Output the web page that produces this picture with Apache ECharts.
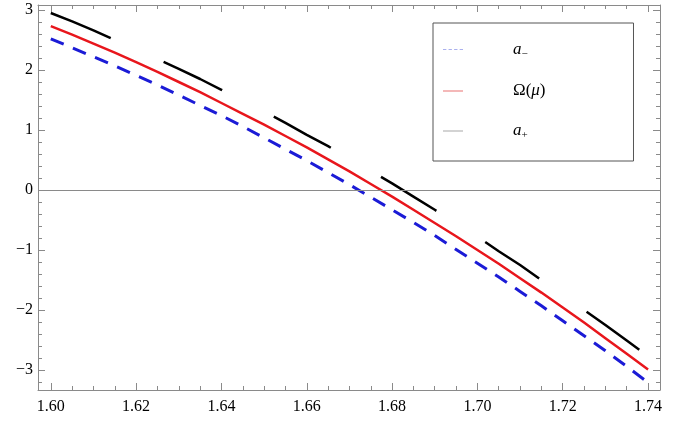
<!DOCTYPE html>
<html><head><meta charset="utf-8">
<script src="https://cdn.jsdelivr.net/npm/echarts@6/dist/echarts.min.js"></script>
<style>html,body{margin:0;padding:0;background:#fff}#c{width:685px;height:428px}</style>
</head><body><div id="c"></div>
<script>
// Data
const xs = [1.600,1.605,1.610,1.615,1.620,1.625,1.630,1.635,1.640,1.645,1.650,1.655,1.660,1.665,1.670,1.675,1.680,1.685,1.690,1.695,1.700,1.705,1.710,1.715,1.720,1.725,1.730,1.735,1.740];
const omega = [2.73,2.59,2.44,2.29,2.13,1.97,1.80,1.63,1.45,1.27,1.09,0.90,0.71,0.51,0.31,0.10,-0.11,-0.33,-0.55,-0.77,-1.00,-1.23,-1.47,-1.71,-1.96,-2.21,-2.47,-2.73,-2.99];
const aMinus = [2.52,2.37,2.22,2.07,1.91,1.75,1.58,1.41,1.24,1.06,0.87,0.68,0.49,0.29,0.09,-0.12,-0.33,-0.54,-0.76,-0.99,-1.22,-1.45,-1.69,-1.93,-2.18,-2.43,-2.68,-2.94,-3.21];
const aPlus = [2.95,2.81,2.66,2.50,2.35,2.18,2.02,1.85,1.67,1.49,1.31,1.12,0.92,0.73,0.52,0.32,0.11,-0.11,-0.33,-0.55,-0.78,-1.02,-1.25,-1.50,-1.74,-2.00,-2.25,-2.51,-2.77];
const xMajor = [1.60,1.62,1.64,1.66,1.68,1.70,1.72,1.74];
const xMinor = [1.600,1.605,1.610,1.615,1.620,1.625,1.630,1.635,1.640,1.645,1.650,1.655,1.660,1.665,1.670,1.675,1.680,1.685,1.690,1.695,1.700,1.705,1.710,1.715,1.720,1.725,1.730,1.735,1.740];
const yMajor = [-3,-2,-1,0,1,2,3];
const yMinor = [-3.2,-3.0,-2.8,-2.6,-2.4,-2.2,-2.0,-1.8,-1.6,-1.4,-1.2,-1.0,-0.8,-0.6,-0.4,-0.2,0,0.2,0.4,0.6,0.8,1.0,1.2,1.4,1.6,1.8,2.0,2.2,2.4,2.6,2.8,3.0];
const names = ['a₋','Ω(μ)','a₊'];

const X_MIN = 1.597, X_MAX = 1.7428, Y_MIN = -3.3333, Y_MAX = 3.0833;
const frame = '#8a8a8a';
const serif = 'Liberation Serif';

function xAx(pos, vals, len, labels, line) {
  return {
    type: 'value', position: pos, min: X_MIN, max: X_MAX, gridIndex: 0,
    axisLine: {show: line, onZero: false, lineStyle: {color: frame, width: 1}},
    axisTick: {show: true, inside: true, length: len, customValues: vals, lineStyle: {color: frame, width: 1}},
    axisLabel: labels ? {show: true, customValues: vals, margin: 9, color: '#000', fontFamily: serif, fontSize: 16,
      formatter: v => Number(v).toFixed(2)} : {show: false},
    splitLine: {show: false}
  };
}
function yAx(pos, vals, len, labels, line) {
  return {
    type: 'value', position: pos, min: Y_MIN, max: Y_MAX, gridIndex: 0,
    axisLine: {show: line, onZero: false, lineStyle: {color: frame, width: 1}},
    axisTick: {show: true, inside: true, length: len, customValues: vals, lineStyle: {color: frame, width: 1}},
    axisLabel: labels ? {show: true, customValues: vals, margin: 5, color: '#000', fontFamily: serif, fontSize: 16,
      formatter: v => String(Math.round(v)).replace('-', '−')} : {show: false},
    splitLine: {show: false}
  };
}

const pts = arr => xs.map((x, i) => [x, arr[i]]);

const chart = echarts.init(document.getElementById('c'), null, {renderer: 'canvas'});
chart.setOption({
  animation: false,
  backgroundColor: '#fff',
  grid: {left: 38, right: 25, top: 5, bottom: 38},
  xAxis: [
    xAx('bottom', xMajor, 7, true, true),
    xAx('bottom', xMinor, 4, false, false),
    xAx('top', xMajor, 7, false, true),
    xAx('top', xMinor, 4, false, false)
  ],
  yAxis: [
    yAx('left', yMajor, 7, true, true),
    yAx('left', yMinor, 4, false, false),
    yAx('right', yMajor, 7, false, true),
    yAx('right', yMinor, 4, false, false)
  ],
  legend: {
    show: true,
    orient: 'vertical', left: 433, top: 23,
    padding: [18, 88, 20, 10],
    itemGap: 23, itemWidth: 20, itemHeight: 1.5,
    borderColor: '#555', borderWidth: 1, backgroundColor: '#fff',
    data: [
      {name: names[0], icon: 'path://M0,0h3v1h-3zM5,0h3v1h-3zM10,0h3v1h-3zM15,0h3v1h-3z', itemStyle: {color: '#aab0ee'}},
      {name: names[1], icon: 'rect', itemStyle: {color: '#f0a0a0'}},
      {name: names[2], icon: 'rect', itemStyle: {color: '#c4c4c4'}}
    ],
    formatter: function (n) { return n === names[0] ? '{i|a}{s|−}' : (n === names[1] ? '{u|Ω(}{i|μ}{u|)}' : '{i|a}{s|+}'); },
    textStyle: {
      color: '#000', fontFamily: serif, fontSize: 17, padding: [0, 0, 0, 45],
      rich: {
        i: {fontFamily: serif, fontStyle: 'italic', fontSize: 17, color: '#000'},
        u: {fontFamily: serif, fontSize: 17, color: '#000'},
        s: {fontFamily: serif, fontSize: 11, color: '#000', padding: [9, 0, 0, 0]}
      }
    }
  },
  series: [
    {name: names[0], type: 'line', xAxisIndex: 0, yAxisIndex: 0, data: pts(aMinus), showSymbol: false, symbol: 'none',
      lineStyle: {color: '#1b1bd6', width: 3, type: [14, 10]}, itemStyle: {color: '#1b1bd6'}, z: 3,
      markLine: {silent: true, symbol: 'none', label: {show: false},
        lineStyle: {color: '#8a8a8a', width: 1, type: 'solid'}, data: [{yAxis: 0}]}},
    {name: names[1], type: 'line', xAxisIndex: 0, yAxisIndex: 0, data: pts(omega), showSymbol: false, symbol: 'none',
      lineStyle: {color: '#e8161c', width: 2.5, type: 'solid'}, itemStyle: {color: '#e8161c'}, z: 3},
    {name: names[2], type: 'line', xAxisIndex: 0, yAxisIndex: 0, data: pts(aPlus), showSymbol: false, symbol: 'none',
      lineStyle: {color: '#000000', width: 2.5, type: [65, 58]}, itemStyle: {color: '#000'}, z: 3}
  ]
});
</script></body></html>
